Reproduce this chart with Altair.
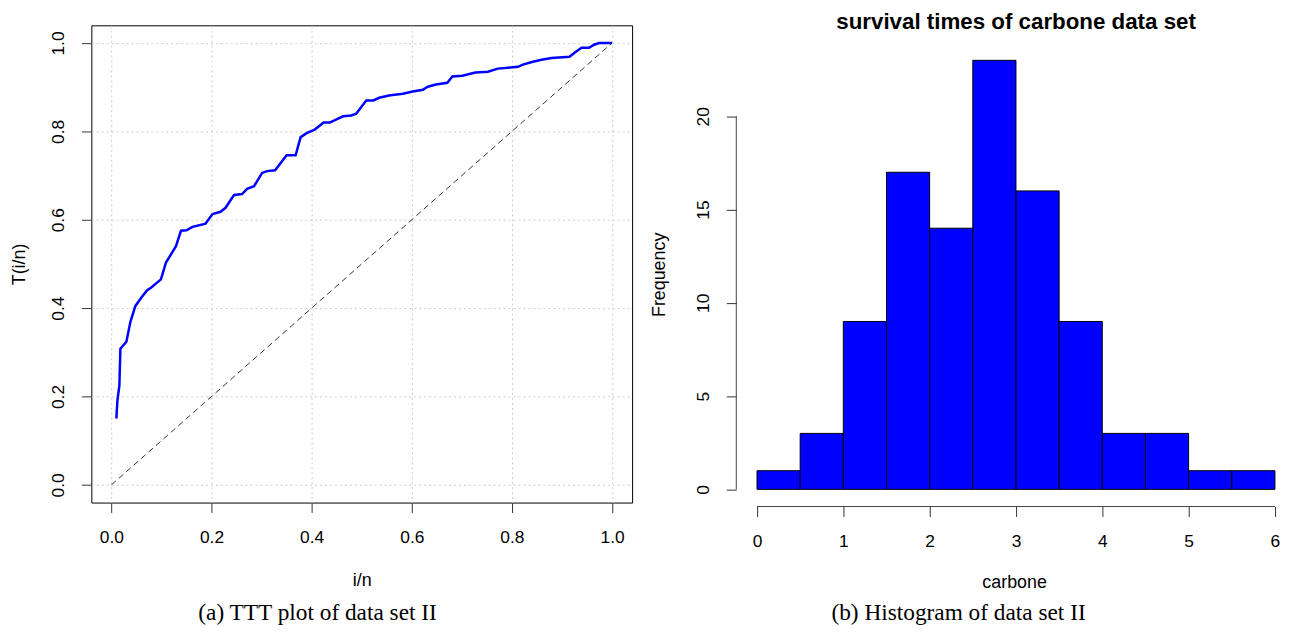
import altair as alt
import pandas as pd

# ---------------- data: TTT plot (data set II) ----------------
ttt_x = [0.010, 0.012, 0.016, 0.018, 0.030, 0.038, 0.048, 0.060, 0.071, 0.079,
         0.099, 0.109, 0.129, 0.139, 0.150, 0.162, 0.188, 0.202, 0.218, 0.228,
         0.245, 0.261, 0.271, 0.285, 0.301, 0.311, 0.327, 0.350, 0.368, 0.378,
         0.390, 0.406, 0.424, 0.436, 0.463, 0.479, 0.489, 0.509, 0.523, 0.535,
         0.554, 0.582, 0.602, 0.622, 0.632, 0.648, 0.671, 0.681, 0.701, 0.727,
         0.752, 0.772, 0.792, 0.812, 0.822, 0.840, 0.859, 0.879, 0.915, 0.925,
         0.939, 0.954, 0.964, 0.974, 1.000]
ttt_y = [0.150, 0.190, 0.225, 0.308, 0.324, 0.369, 0.405, 0.424, 0.440, 0.446,
         0.465, 0.503, 0.540, 0.575, 0.576, 0.584, 0.591, 0.613, 0.618, 0.627,
         0.656, 0.658, 0.670, 0.676, 0.706, 0.710, 0.712, 0.746, 0.746, 0.787,
         0.796, 0.804, 0.820, 0.820, 0.834, 0.836, 0.840, 0.870, 0.870, 0.876,
         0.881, 0.885, 0.890, 0.894, 0.901, 0.906, 0.910, 0.924, 0.926, 0.933,
         0.935, 0.942, 0.944, 0.946, 0.951, 0.957, 0.962, 0.966, 0.969, 0.978,
         0.989, 0.989, 0.996, 1.000, 1.000]
diag_x = [0.0, 1.0]
diag_y = [0.0, 1.0]
ttt_ticks = [0.0, 0.2, 0.4, 0.6, 0.8, 1.0]

# ---------------- data: histogram ----------------
bin_start = [0.0, 0.5, 1.0, 1.5, 2.0, 2.5, 3.0, 3.5, 4.0, 4.5, 5.0, 5.5]
bin_end = [0.5, 1.0, 1.5, 2.0, 2.5, 3.0, 3.5, 4.0, 4.5, 5.0, 5.5, 6.0]
counts = [1, 3, 9, 17, 14, 23, 16, 9, 3, 3, 1, 1]
hist_xticks = [0, 1, 2, 3, 4, 5, 6]
hist_yticks = [0, 5, 10, 15, 20]

title_hist = "survival times of carbone data set"
caption_a = "(a) TTT plot of data set II"
caption_b = "(b) Histogram of data set II"

FONT = "Liberation Sans"
SERIF = "Liberation Serif"
LFS = 17.5
TFS = 18

LW, LH = 545, 481
RW, RH = 546, 485

common = dict(labelFont=FONT, labelFontSize=LFS, titleFont=FONT, titleFontSize=TFS,
              titleFontWeight="normal", labelColor="black", titleColor="black",
              tickColor="#333333", tickSize=10, domain=False)

# ---------------- left panel ----------------
xs_l = alt.Scale(domain=[-0.04, 1.04], nice=False, zero=False)
ys_l = alt.Scale(domain=[-0.04, 1.04], nice=False, zero=False)

x_axis_l = alt.Axis(values=ttt_ticks, format=".1f", title="i/n", grid=True,
                    gridColor="#cccccc", gridDash=[2, 3], labelPadding=16,
                    titlePadding=26, **common)
y_axis_l = alt.Axis(values=ttt_ticks, format=".1f", title="T(i/n)", grid=True,
                    gridColor="#cccccc", gridDash=[2, 3], labelAngle=-90,
                    labelAlign="center", labelBaseline="bottom", labelPadding=14,
                    titlePadding=21, **common)

ttt_df = pd.DataFrame({"x": ttt_x, "y": ttt_y})
diag_df = pd.DataFrame({"x": diag_x, "y": diag_y})

ttt_line = alt.Chart(ttt_df).mark_line(color="#0000ff", strokeWidth=2.5).encode(
    x=alt.X("x:Q", scale=xs_l, axis=x_axis_l),
    y=alt.Y("y:Q", scale=ys_l, axis=y_axis_l),
)
diag_line = alt.Chart(diag_df).mark_line(color="#333333", strokeWidth=1,
                                         strokeDash=[6, 4]).encode(
    x=alt.X("x:Q", scale=xs_l),
    y=alt.Y("y:Q", scale=ys_l),
)
cap_a = alt.Chart(pd.DataFrame({"t": [caption_a]})).mark_text(
    font=SERIF, fontSize=23.5, align="center", baseline="middle", color="black"
).encode(x=alt.value(228), y=alt.value(592), text="t:N")

left = alt.layer(diag_line, ttt_line, cap_a).properties(
    width=LW, height=LH,
    view=alt.ViewBackground(stroke="black", strokeWidth=1),
)

# ---------------- right panel ----------------
xs_r = alt.Scale(domain=[-0.24, -0.24 + RW / 87.0], nice=False, zero=False)
ys_r = alt.Scale(domain=[-0.92, -0.92 + RH / 18.8], nice=False, zero=False)

x_axis_r = alt.Axis(values=hist_xticks, format="d", title="carbone",
                    labelPadding=16, titlePadding=24, titleX=280, grid=False,
                    **common)
y_axis_r = alt.Axis(values=hist_yticks, format="d", title="Frequency",
                    labelAngle=-90, labelAlign="center", labelBaseline="bottom",
                    labelPadding=14, titlePadding=26, titleY=251, grid=False,
                    **common)

hist_df = pd.DataFrame({"start": bin_start, "end": bin_end, "count": counts})

bars = alt.Chart(hist_df).mark_rect(color="#0000ff", stroke="black",
                                    strokeWidth=1).encode(
    x=alt.X("start:Q", scale=xs_r, axis=x_axis_r),
    x2="end:Q",
    y=alt.Y("count:Q", scale=ys_r, axis=y_axis_r),
    y2=alt.datum(0),
)

xline = alt.Chart(pd.DataFrame({"a": [min(hist_xticks)], "b": [max(hist_xticks)]})).mark_rule(
    color="#444444", strokeWidth=1).encode(
    x=alt.X("a:Q", scale=xs_r), x2="b:Q", y=alt.value(RH))
yline = alt.Chart(pd.DataFrame({"a": [min(hist_yticks)], "b": [max(hist_yticks)]})).mark_rule(
    color="#444444", strokeWidth=1).encode(
    y=alt.Y("a:Q", scale=ys_r), y2="b:Q", x=alt.value(0))

cap_b = alt.Chart(pd.DataFrame({"t": [caption_b]})).mark_text(
    font=SERIF, fontSize=23.5, align="center", baseline="middle", color="black"
).encode(x=alt.value(224), y=alt.value(592), text="t:N")

right = alt.layer(bars, xline, yline, cap_b).properties(
    width=RW, height=RH,
    title=alt.TitleParams(text=title_hist, font=FONT, fontSize=22.5, fontWeight="bold",
                          color="black", anchor="middle", baseline="middle",
                          offset=-19, dx=9),
)

chart = alt.hconcat(left, right, spacing=105, bounds="flush").configure(
    padding={"left": 2, "top": 0, "right": 2, "bottom": 2},
    background="white",
).configure_view(strokeWidth=0)

chart.save("out.html", embed_options={"renderer": "svg", "actions": False})
